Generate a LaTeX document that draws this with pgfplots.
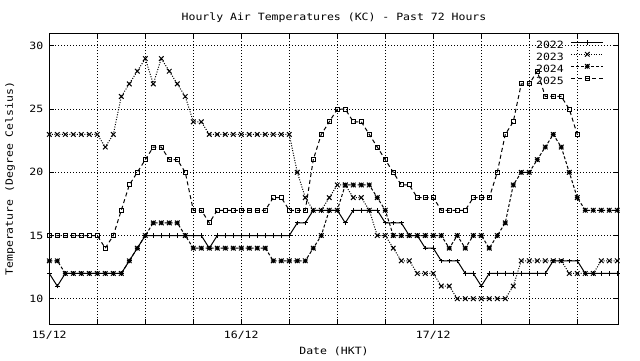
\documentclass[border=0pt]{standalone}
\usepackage{pgfplots}
\pgfplotsset{compat=1.18}
\usepackage{pgfplotstable}
\usepackage{fontspec}
\setmainfont{DejaVu Sans Mono}[FakeStretch=1.15]

\pgfdeclareplotmark{gpplus}{%
  \pgfpathmoveto{\pgfqpoint{-\pgfplotmarksize}{0pt}}\pgfpathlineto{\pgfqpoint{\pgfplotmarksize}{0pt}}%
  \pgfpathmoveto{\pgfqpoint{0pt}{-\pgfplotmarksize}}\pgfpathlineto{\pgfqpoint{0pt}{\pgfplotmarksize}}%
  \pgfusepathqstroke}
\pgfdeclareplotmark{gpx}{%
  \pgfpathmoveto{\pgfqpoint{-\pgfplotmarksize}{-\pgfplotmarksize}}\pgfpathlineto{\pgfqpoint{\pgfplotmarksize}{\pgfplotmarksize}}%
  \pgfpathmoveto{\pgfqpoint{-\pgfplotmarksize}{\pgfplotmarksize}}\pgfpathlineto{\pgfqpoint{\pgfplotmarksize}{-\pgfplotmarksize}}%
  \pgfusepathqstroke}
\pgfdeclareplotmark{gpstar}{%
  \pgfpathmoveto{\pgfqpoint{-\pgfplotmarksize}{0pt}}\pgfpathlineto{\pgfqpoint{\pgfplotmarksize}{0pt}}%
  \pgfpathmoveto{\pgfqpoint{0pt}{-\pgfplotmarksize}}\pgfpathlineto{\pgfqpoint{0pt}{\pgfplotmarksize}}%
  \pgfpathmoveto{\pgfqpoint{-\pgfplotmarksize}{-\pgfplotmarksize}}\pgfpathlineto{\pgfqpoint{\pgfplotmarksize}{\pgfplotmarksize}}%
  \pgfpathmoveto{\pgfqpoint{-\pgfplotmarksize}{\pgfplotmarksize}}\pgfpathlineto{\pgfqpoint{\pgfplotmarksize}{-\pgfplotmarksize}}%
  \pgfusepathqstroke}

\pgfplotstableread{
h  a  b  c  d
0  12 23 13 15
1  11 23 13 15
2  12 23 12 15
3  12 23 12 15
4  12 23 12 15
5  12 23 12 15
6  12 23 12 15
7  12 22 12 14
8  12 23 12 15
9  12 26 12 17
10 13 27 13 19
11 14 28 14 20
12 15 29 15 21
13 15 27 16 22
14 15 29 16 22
15 15 28 16 21
16 15 27 16 21
17 15 26 15 20
18 15 24 14 17
19 15 24 14 17
20 14 23 14 16
21 15 23 14 17
22 15 23 14 17
23 15 23 14 17
24 15 23 14 17
25 15 23 14 17
26 15 23 14 17
27 15 23 14 17
28 15 23 13 18
29 15 23 13 18
30 15 23 13 17
31 16 20 13 17
32 16 18 13 17
33 17 17 14 21
34 17 17 15 23
35 17 18 17 24
36 17 19 17 25
37 16 19 19 25
38 17 18 19 24
39 17 18 19 24
40 17 17 19 23
41 17 15 18 22
42 16 15 17 21
43 16 14 15 20
44 16 13 15 19
45 15 13 15 19
46 15 12 15 18
47 14 12 15 18
48 14 12 15 18
49 13 11 15 17
50 13 11 14 17
51 13 10 15 17
52 12 10 14 17
53 12 10 15 18
54 11 10 15 18
55 12 10 14 18
56 12 10 15 20
57 12 10 16 23
58 12 11 19 24
59 12 13 20 27
60 12 13 20 27
61 12 13 21 28
62 12 13 22 26
63 13 13 23 26
64 13 13 22 26
65 13 12 20 25
66 13 12 18 23
67 12 12 17 nan
68 12 12 17 nan
69 12 13 17 nan
70 12 13 17 nan
71 12 13 17 nan
}\temps

\begin{document}
\begin{tikzpicture}
\useasboundingbox (0,0) rectangle (640pt,360pt);
\begin{axis}[
  at={(49.3pt,36pt)}, anchor=south west,
  scale only axis, width=569.4pt, height=290.7pt,
  xmin=0, xmax=71.18, ymin=8, ymax=31,
  xtick={0,6,...,66}, xticklabels={15/12,,,,16/12,,,,17/12,,,},
  ytick={10,15,20,25,30},
  grid=major,
  grid style={black, line width=1pt, dash pattern=on 1pt off 2pt},
  axis line style={black, line width=1pt},
  major tick style={black, line width=1pt}, major tick length=5pt,
  font=\fontsize{10}{12}\selectfont,
  /pgf/number format/assume math mode=true,
  title={Hourly Air Temperatures (KC) - Past 72 Hours},
  every axis title/.style={at={(axis description cs:0.5,1)}, anchor=base, yshift=12.6pt},
  xlabel={Date (HKT)},
  every axis x label/.style={at={(axis description cs:0.5,0)}, anchor=base, yshift=-30pt},
  ylabel={Temperature (Degree Celsius)},
  every axis y label/.style={at={(axis description cs:-0.069,0.5)}, anchor=center, rotate=90},
  xticklabel style={anchor=base, yshift=-14pt},
  yticklabel style={anchor=east, xshift=-2.5pt},
  clip=false,
  legend plot pos=right, legend cell align=right,
  legend style={draw=none, fill=none, at={(axis description cs:0.9742,0.9776)}, anchor=north east,
    inner sep=0pt, column sep=7pt, row sep=1.7pt,
    nodes={inner sep=0pt, text height=7pt, text depth=2pt}},
  legend image code/.code={\draw[mark repeat=2, mark phase=2, #1] plot coordinates {(0pt,3.5pt) (16pt,3.5pt) (32pt,3.5pt)};},
  every axis plot/.append style={black, line width=1pt, mark size=2.3pt},
]
\addplot[solid, mark=gpplus, mark options={solid}] table[x=h, y=a] {\temps};
\addlegendentry{2022}
\addplot[dash pattern=on 1pt off 1.5pt, mark=gpx, mark options={solid}] table[x=h, y=b] {\temps};
\addlegendentry{2023}
\addplot[dash pattern=on 3pt off 2pt, mark=gpstar, mark options={solid}] table[x=h, y=c] {\temps};
\addlegendentry{2024}
\addplot[dash pattern=on 4pt off 3pt, mark=square, mark size=2pt, mark options={solid}] table[x=h, y=d] {\temps};
\addlegendentry{2025}
\end{axis}
\end{tikzpicture}
\end{document}
